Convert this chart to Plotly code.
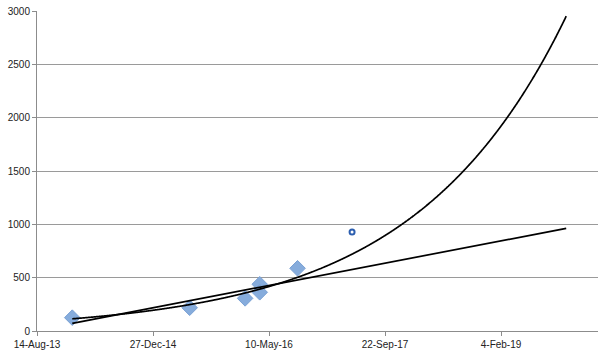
import numpy as np
import pandas as pd
import plotly.graph_objects as go

# Data
dates = ["2014-01-13", "2015-06-03", "2016-01-28", "2016-03-31", "2016-03-31", "2016-09-10"]
values = [125, 218, 306, 438, 363, 588]
extra_date = ["2017-05-03"]
extra_value = [928]
trend_end = "2019-11-12"
tick_dates = ["2013-08-14", "2014-12-27", "2016-05-10", "2017-09-22", "2019-02-04"]
tick_text = ["14-Aug-13", "27-Dec-14", "10-May-16", "22-Sep-17", "4-Feb-19"]
y_ticks = [0, 500, 1000, 1500, 2000, 2500, 3000]

d = pd.to_datetime(dates)
origin = pd.Timestamp("2013-08-14")
xd = np.array([(t - origin).days for t in d], dtype=float)
yv = np.array(values, dtype=float)

# Trendlines fitted from data (like Excel's linear and exponential trendlines)
lin = np.polyfit(xd, yv, 1)
ex = np.polyfit(xd, np.log(yv), 1)
end_days = (pd.Timestamp(trend_end) - origin).days
xs = np.linspace(xd.min(), end_days, 800)
xs_dates = [origin + pd.Timedelta(days=float(v)) for v in xs]

fig = go.Figure()
fig.add_trace(go.Scatter(x=d, y=values, mode="markers",
                         marker=dict(symbol="diamond", size=12, color="#86acdc",
                                     line=dict(color="#7aa1d4", width=1)),
                         showlegend=False))
fig.add_trace(go.Scatter(x=pd.to_datetime(extra_date), y=extra_value, mode="markers",
                         marker=dict(symbol="circle-open", size=5, color="#2d5fb0",
                                     line=dict(color="#2d5fb0", width=2)),
                         showlegend=False))
fig.add_trace(go.Scatter(x=xs_dates, y=np.exp(np.polyval(ex, xs)), mode="lines",
                         line=dict(color="black", width=1.7, shape="spline"), showlegend=False))
fig.add_trace(go.Scatter(x=[xs_dates[0], xs_dates[-1]],
                         y=[np.polyval(lin, xs[0]), np.polyval(lin, xs[-1])], mode="lines",
                         line=dict(color="black", width=1.7), showlegend=False))

range_end = origin + pd.Timedelta(days=2418)
fig.update_layout(
    width=600, height=357,
    margin=dict(l=37, r=2, t=11, b=26),
    paper_bgcolor="white", plot_bgcolor="white",
    font=dict(family="Liberation Sans", size=10, color="#222222"),
)
fig.update_xaxes(range=[origin, range_end], tickvals=pd.to_datetime(tick_dates), ticktext=tick_text,
                 showgrid=False, showline=True, linecolor="#8c8c8c", linewidth=1,
                 ticks="outside", ticklen=4, tickcolor="#8c8c8c", zeroline=False)
fig.update_yaxes(range=[0, 3000], tickvals=y_ticks, showgrid=True, gridcolor="#9a9a9a",
                 gridwidth=1, showline=True, linecolor="#8c8c8c", linewidth=1,
                 ticks="outside", ticklen=4, tickcolor="#8c8c8c", zeroline=False)
fig.write_html("out.html")
